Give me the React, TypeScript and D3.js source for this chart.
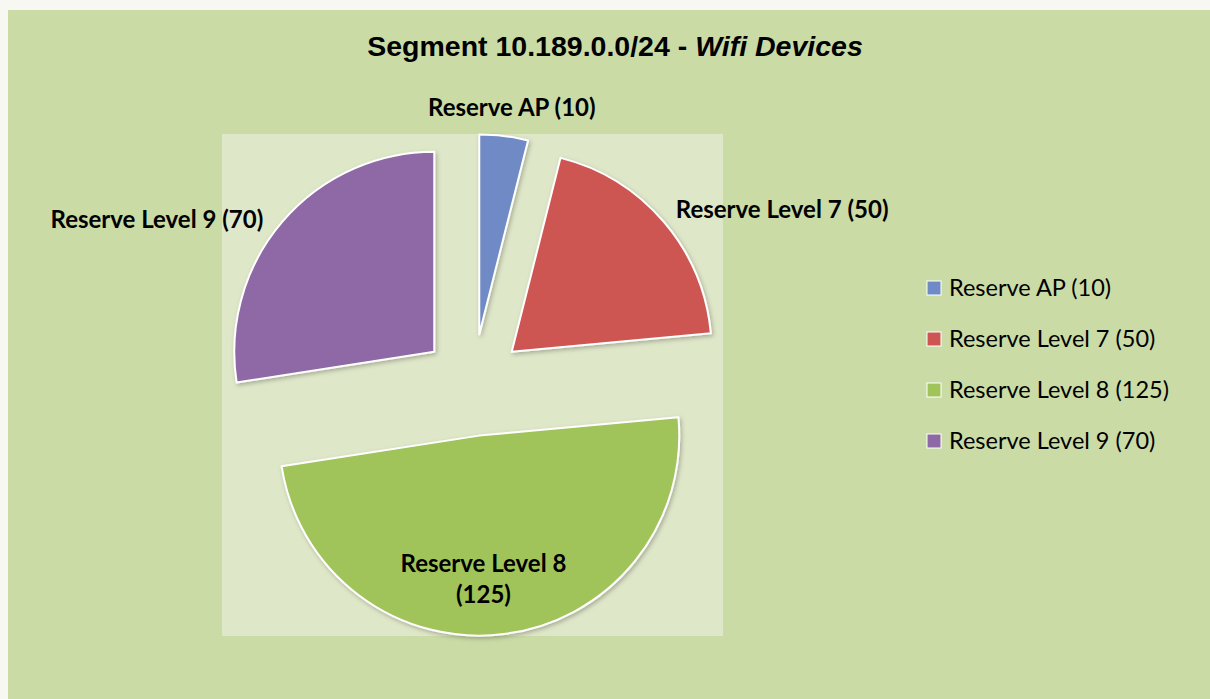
import React from 'react';
import * as d3 from 'd3';

// segment data
const categories = ['Reserve AP', 'Reserve Level 7', 'Reserve Level 8', 'Reserve Level 9'];
const counts = [10, 50, 125, 70];
const sliceColors = ['#6f8ac5', '#cd5652', '#a1c45a', '#8e69a5'];
const titleMain = 'Segment 10.189.0.0/24 - ';
const titleItalic = 'Wifi Devices';

const W = 1210;
const H = 699;

const App = () => {
    const cx = 473;
    const cy = 385;
    const radius = 200;
    const explode = 51;

    const pie = d3.pie<number>().sort(null).value(d => d);
    const slices = pie(counts);
    const arc = d3.arc<d3.PieArcDatum<number>>().innerRadius(0).outerRadius(radius);

    const legendY = d3.scalePoint<string>().domain(categories).range([288, 441]);

    const labelFor = (i: number) => `${categories[i]} (${counts[i]})`;

    return (
        <svg width={W} height={H} style={{ position: 'absolute', left: 0, top: 0 }}>
            <defs>
                <filter id="shadow" x="-20%" y="-20%" width="140%" height="140%">
                    <feDropShadow dx="1.5" dy="2" stdDeviation="2" floodColor="#000" floodOpacity="0.25" />
                </filter>
            </defs>
            <rect x={0} y={0} width={W} height={H} fill="#f6f8f1" />
            <rect x={8} y={10} width={W - 8} height={H - 10} fill="#cadba6" />
            <rect x={222} y={134} width={501} height={502} fill="#dfe7c9" />

            <text x={615} y={56} textAnchor="middle" fontFamily="'Liberation Sans', Arial, sans-serif"
                fontWeight="bold" fontSize={28.5} fill="#000">
                {titleMain}<tspan fontStyle="italic">{titleItalic}</tspan>
            </text>

            {slices.map((s, i) => {
                const mid = (s.startAngle + s.endAngle) / 2;
                const ox = cx + explode * Math.sin(mid);
                const oy = cy - explode * Math.cos(mid);
                return (
                    <g key={i} transform={`translate(${ox},${oy})`}>
                        <path d={arc(s) || ''} fill={sliceColors[i]} stroke="#fff" strokeWidth={2}
                            strokeLinejoin="round" filter="url(#shadow)" />
                    </g>
                );
            })}

            {slices.map((s, i) => {
                const mid = (s.startAngle + s.endAngle) / 2;
                const ox = cx + explode * Math.sin(mid);
                const oy = cy - explode * Math.cos(mid);
                const sx = Math.sin(mid);
                const sy = -Math.cos(mid);
                const common = {
                    fontFamily: "Lato, 'Open Sans', sans-serif",
                    fontWeight: 'bold' as const,
                    fontSize: 24,
                    fill: '#000',
                };
                if (s.endAngle - s.startAngle > Math.PI * 0.9) {
                    // big slice: label inside, two lines
                    const px = ox + sx * 140 - 13;
                    const py = oy + sy * 140;
                    return (
                        <text key={i} x={px} textAnchor="middle" {...common}>
                            <tspan x={px} y={py - 3}>{categories[i]}</tspan>
                            <tspan x={px} y={py + 28}>{`(${counts[i]})`}</tspan>
                        </text>
                    );
                }
                const rr = radius + 16;
                let px = ox + sx * rr;
                const py = oy + sy * rr;
                let anchor = 'middle';
                if (Math.abs(sx) > 0.3) anchor = sx > 0 ? 'start' : 'end';
                if (anchor === 'end') px -= 7;
                if (anchor === 'middle') px += 6;
                let baseY = py + 7;
                if (anchor === 'middle') baseY = py - 4;
                if (anchor === 'end') baseY = py + 17;
                return (
                    <text key={i} x={px} y={baseY} textAnchor={anchor} {...common}>
                        {labelFor(i)}
                    </text>
                );
            })}

            {categories.map((c, i) => (
                <g key={c} transform={`translate(927,${legendY(c)})`}>
                    <rect x={0} y={-7} width={14} height={14} fill={sliceColors[i]} stroke="#fff" strokeWidth={1} />
                    <text x={22} y={8} fontFamily="Lato, 'Open Sans', sans-serif" fontSize={23.5} fill="#000">
                        {labelFor(i)}
                    </text>
                </g>
            ))}
        </svg>
    );
};

export default App;
